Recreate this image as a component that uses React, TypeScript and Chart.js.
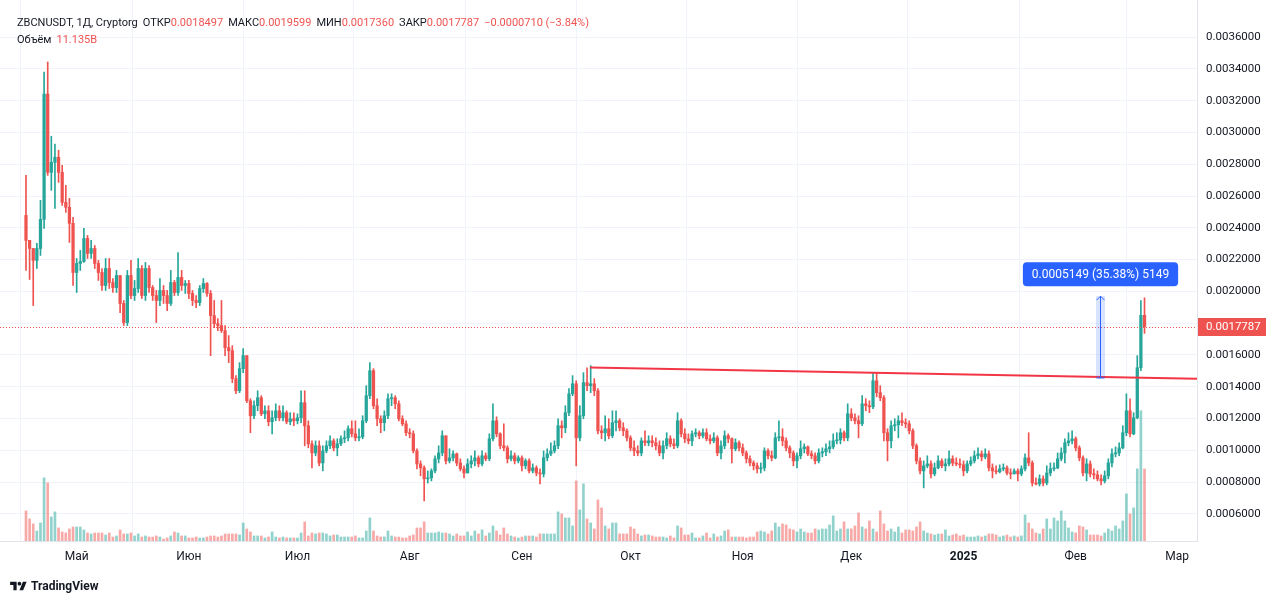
import React, { useEffect, useRef } from "react";
import { Chart, registerables } from "chart.js";

Chart.register(...registerables);

// ---------- data ----------
const symbolTitle = "ZBCNUSDT, 1Д, Cryptorg";
const firstOpen = 0.002478;

const closes = [
  0.002321,0.002270,0.002195,0.002270,0.002453,0.003241,0.002749,0.002812,0.002844,0.002749,
  0.002560,0.002529,0.002428,0.002119,0.002176,0.002188,0.002333,0.002239,0.002270,0.002176,
  0.002119,0.002037,0.002144,0.002056,0.002024,0.002100,0.001924,0.001804,0.002100,0.001974,
  0.002018,0.002144,0.001974,0.002144,0.002024,0.001974,0.001943,0.002006,0.001974,0.001924,
  0.002056,0.001993,0.002088,0.002037,0.002050,0.001987,0.001943,0.001930,0.002018,0.002050,
  0.001987,0.001848,0.001797,0.001785,0.001753,0.001646,0.001627,0.001451,0.001375,0.001514,
  0.001596,0.001312,0.001218,0.001281,0.001331,0.001230,0.001249,0.001180,0.001205,0.001249,
  0.001205,0.001237,0.001180,0.001199,0.001186,0.001205,0.001300,0.001155,0.001041,0.000984,
  0.001029,0.000921,0.000997,0.001029,0.001060,0.001016,0.001041,0.001073,0.001079,0.001136,
  0.001104,0.001079,0.001085,0.001186,0.001344,0.001501,0.001281,0.001199,0.001174,0.001218,
  0.001325,0.001331,0.001293,0.001199,0.001167,0.001111,0.001104,0.000997,0.000915,0.000890,
  0.000821,0.000827,0.000871,0.000947,0.000984,0.001092,0.000934,0.000953,0.000978,0.000921,
  0.000884,0.000858,0.000915,0.000934,0.000953,0.000915,0.000966,0.000947,0.001073,0.001186,
  0.001104,0.001029,0.001016,0.000947,0.000966,0.000934,0.000953,0.000903,0.000934,0.000871,
  0.000890,0.000858,0.000852,0.000953,0.000978,0.000997,0.001029,0.001155,0.001142,0.001237,
  0.001356,0.001419,0.001079,0.001218,0.001426,0.001407,0.001419,0.001375,0.001123,0.001111,
  0.001136,0.001092,0.001174,0.001186,0.001142,0.001123,0.001079,0.001016,0.000997,0.000984,
  0.001060,0.001048,0.001060,0.001048,0.001029,0.000984,0.001029,0.001073,0.001041,0.001029,
  0.001186,0.001104,0.001073,0.001060,0.001104,0.001111,0.001092,0.001111,0.001073,0.001060,
  0.001079,0.000984,0.001029,0.001092,0.001073,0.001010,0.001048,0.001016,0.000984,0.000947,
  0.000921,0.000903,0.000884,0.000890,0.000997,0.000966,0.000953,0.001079,0.001085,0.001060,
  0.001016,0.000984,0.000934,0.000966,0.001010,0.001022,0.000978,0.000966,0.000934,0.000984,
  0.000991,0.001010,0.001022,0.001060,0.001066,0.001111,0.001079,0.001230,0.001205,0.001186,
  0.001167,0.001293,0.001281,0.001274,0.001438,0.001363,0.001331,0.001111,0.001060,0.001155,
  0.001161,0.001186,0.001174,0.001167,0.001123,0.001029,0.000934,0.000871,0.000903,0.000915,
  0.000852,0.000890,0.000934,0.000903,0.000915,0.000947,0.000921,0.000915,0.000909,0.000871,
  0.000915,0.000934,0.000966,0.000978,0.000959,0.000978,0.000890,0.000871,0.000865,0.000884,
  0.000890,0.000858,0.000852,0.000871,0.000852,0.000884,0.000953,0.000921,0.000795,0.000789,
  0.000821,0.000795,0.000858,0.000884,0.000890,0.000947,0.000984,0.001048,0.001060,0.001073,
  0.001016,0.000953,0.000858,0.000915,0.000852,0.000846,0.000821,0.000808,0.000840,0.000921,
  0.000978,0.000984,0.001016,0.001111,0.001249,0.001104,0.001205,0.001520,0.0018497,0.0017787,
];

const highs = [
  0.002730,0.002302,0.002258,0.002302,0.002573,0.003380,0.003443,0.002976,0.002926,0.002888,
  0.002793,0.002667,0.002585,0.002466,0.002207,0.002258,0.002396,0.002352,0.002321,0.002289,
  0.002195,0.002144,0.002207,0.002207,0.002081,0.002132,0.002081,0.001943,0.002132,0.002195,
  0.002069,0.002207,0.002163,0.002182,0.002163,0.002037,0.002006,0.002081,0.002037,0.002006,
  0.002132,0.002069,0.002245,0.002132,0.002069,0.002069,0.002006,0.001974,0.002037,0.002081,
  0.002056,0.002006,0.001943,0.001829,0.001943,0.001785,0.001722,0.001659,0.001470,0.001552,
  0.001640,0.001596,0.001325,0.001312,0.001375,0.001344,0.001281,0.001281,0.001249,0.001293,
  0.001281,0.001281,0.001249,0.001237,0.001237,0.001230,0.001375,0.001375,0.001186,0.001060,
  0.001060,0.001060,0.001029,0.001060,0.001092,0.001073,0.001073,0.001092,0.001123,0.001155,
  0.001186,0.001186,0.001136,0.001218,0.001407,0.001552,0.001514,0.001325,0.001218,0.001249,
  0.001356,0.001356,0.001344,0.001312,0.001218,0.001186,0.001136,0.001123,0.001010,0.000934,
  0.000903,0.000871,0.000884,0.000966,0.001029,0.001123,0.001092,0.001010,0.000997,0.000984,
  0.000947,0.000903,0.000947,0.000966,0.000997,0.000966,0.000997,0.000984,0.001104,0.001293,
  0.001211,0.001111,0.001167,0.001029,0.000997,0.000984,0.000966,0.000966,0.000947,0.000947,
  0.000915,0.000903,0.000884,0.000997,0.001010,0.001048,0.001060,0.001199,0.001186,0.001281,
  0.001388,0.001470,0.001438,0.001281,0.001489,0.001520,0.001533,0.001451,0.001388,0.001155,
  0.001218,0.001199,0.001249,0.001249,0.001199,0.001174,0.001136,0.001092,0.001060,0.001029,
  0.001079,0.001123,0.001092,0.001092,0.001079,0.001060,0.001060,0.001111,0.001092,0.001073,
  0.001237,0.001199,0.001136,0.001104,0.001123,0.001136,0.001123,0.001136,0.001136,0.001098,
  0.001111,0.001092,0.001060,0.001123,0.001104,0.001079,0.001073,0.001060,0.001041,0.000997,
  0.000966,0.000934,0.000921,0.000921,0.001016,0.001010,0.000997,0.001111,0.001186,0.001136,
  0.001079,0.001029,0.000997,0.000984,0.001060,0.001041,0.001029,0.000997,0.000984,0.001010,
  0.001016,0.001041,0.001060,0.001104,0.001111,0.001136,0.001123,0.001293,0.001262,0.001230,
  0.001218,0.001344,0.001325,0.001312,0.001489,0.001489,0.001407,0.001344,0.001136,0.001186,
  0.001199,0.001218,0.001237,0.001199,0.001186,0.001136,0.001041,0.000953,0.000934,0.000966,
  0.000934,0.000921,0.000966,0.000947,0.000947,0.000997,0.000966,0.000953,0.000947,0.000934,
  0.000934,0.000959,0.000997,0.001016,0.000997,0.001010,0.000997,0.000915,0.000903,0.000909,
  0.000915,0.000903,0.000884,0.000884,0.000884,0.000903,0.000978,0.001111,0.000934,0.000827,
  0.000846,0.000840,0.000903,0.000921,0.000921,0.000984,0.001016,0.001073,0.001111,0.001123,
  0.001085,0.001029,0.000966,0.000947,0.000934,0.000884,0.000871,0.000846,0.000871,0.000947,
  0.001010,0.001022,0.001048,0.001155,0.001356,0.001325,0.001237,0.001596,0.001943,0.0019599,
];

const lows = [
  0.002132,0.002075,0.001911,0.002144,0.002226,0.002396,0.002730,0.002636,0.002522,0.002686,
  0.002541,0.002497,0.002308,0.002037,0.001993,0.002132,0.002182,0.002207,0.002207,0.002144,
  0.002069,0.002006,0.002006,0.002018,0.001993,0.001993,0.001867,0.001785,0.001785,0.001955,
  0.001943,0.001993,0.001955,0.001943,0.001993,0.001943,0.001804,0.001911,0.001924,0.001879,
  0.001911,0.001974,0.001974,0.002006,0.001987,0.001955,0.001911,0.001898,0.001911,0.001993,
  0.001968,0.001596,0.001772,0.001753,0.001741,0.001596,0.001552,0.001426,0.001356,0.001363,
  0.001489,0.001300,0.001111,0.001199,0.001249,0.001218,0.001199,0.001155,0.001104,0.001186,
  0.001186,0.001186,0.001167,0.001161,0.001155,0.001167,0.001174,0.001029,0.001016,0.000890,
  0.000966,0.000903,0.000871,0.000984,0.001010,0.000997,0.000966,0.001029,0.001048,0.001060,
  0.001085,0.001060,0.001060,0.001073,0.001174,0.001325,0.001262,0.001155,0.001111,0.001123,
  0.001199,0.001281,0.001262,0.001186,0.001155,0.001092,0.001079,0.000984,0.000884,0.000840,
  0.000682,0.000795,0.000808,0.000858,0.000921,0.000966,0.000915,0.000921,0.000934,0.000903,
  0.000871,0.000827,0.000858,0.000890,0.000903,0.000896,0.000903,0.000934,0.000934,0.001060,
  0.001085,0.001010,0.000997,0.000921,0.000934,0.000915,0.000921,0.000871,0.000884,0.000858,
  0.000858,0.000840,0.000789,0.000833,0.000934,0.000966,0.000984,0.001010,0.001079,0.001111,
  0.001218,0.001344,0.000903,0.001060,0.001199,0.001375,0.001363,0.001344,0.001104,0.001073,
  0.001060,0.001073,0.001079,0.001123,0.001123,0.001092,0.001060,0.000997,0.000966,0.000966,
  0.000966,0.001029,0.001029,0.001022,0.001003,0.000966,0.000947,0.001010,0.001022,0.001010,
  0.001016,0.001085,0.001048,0.001041,0.001029,0.001085,0.001073,0.001079,0.001060,0.001041,
  0.001048,0.000966,0.000947,0.001010,0.001048,0.000921,0.000997,0.000997,0.000966,0.000921,
  0.000903,0.000877,0.000858,0.000858,0.000871,0.000947,0.000934,0.000947,0.001060,0.001029,
  0.000997,0.000953,0.000903,0.000890,0.000947,0.000984,0.000966,0.000947,0.000915,0.000921,
  0.000959,0.000966,0.000984,0.001010,0.001041,0.001041,0.001060,0.001060,0.001186,0.001167,
  0.001079,0.001155,0.001249,0.001237,0.001262,0.001337,0.001312,0.001060,0.000934,0.001016,
  0.001123,0.001079,0.001155,0.001142,0.001104,0.001010,0.000915,0.000852,0.000764,0.000890,
  0.000827,0.000840,0.000884,0.000890,0.000871,0.000903,0.000903,0.000903,0.000890,0.000840,
  0.000858,0.000903,0.000921,0.000947,0.000934,0.000947,0.000871,0.000827,0.000852,0.000858,
  0.000871,0.000846,0.000821,0.000852,0.000808,0.000840,0.000871,0.000903,0.000776,0.000783,
  0.000776,0.000776,0.000783,0.000840,0.000871,0.000884,0.000934,0.000921,0.001029,0.001041,
  0.000997,0.000934,0.000840,0.000808,0.000833,0.000821,0.000808,0.000783,0.000795,0.000821,
  0.000896,0.000959,0.000966,0.001010,0.001092,0.001085,0.001098,0.001199,0.001501,0.0017360,
];

// volume, billions
const volumesB = [
  4.65,3.41,2.64,1.55,2.79,9.77,8.99,3.72,4.50,2.02,
  1.40,1.24,1.86,2.17,2.17,2.17,1.71,1.24,1.09,1.24,
  1.24,1.24,0.93,1.24,0.62,0.78,1.71,1.09,1.09,1.24,
  0.78,1.09,0.62,0.78,0.62,0.62,0.78,0.62,0.31,0.47,
  0.78,1.40,1.24,0.78,0.78,0.47,0.47,0.62,0.47,0.47,
  0.62,0.78,0.78,0.62,0.78,1.09,1.09,1.09,1.09,0.93,
  2.79,1.86,1.40,0.78,0.78,0.78,0.47,0.62,1.40,0.62,
  0.47,0.62,0.47,0.47,0.47,0.47,1.24,2.95,0.78,1.24,
  1.09,1.24,1.24,1.09,0.78,0.93,0.93,0.62,0.62,0.62,
  0.62,0.78,0.47,0.47,1.55,3.57,1.55,0.78,0.62,0.62,
  1.55,0.78,0.62,0.62,0.47,0.47,0.78,0.93,2.02,2.02,
  2.95,1.24,1.24,1.24,1.40,1.24,1.24,1.09,0.78,1.09,
  0.78,0.78,1.40,0.78,1.55,1.09,1.71,0.78,1.24,2.33,
  1.55,0.93,2.02,1.09,0.78,0.62,0.47,0.62,0.78,0.78,
  0.78,0.62,1.09,1.09,1.09,1.09,1.09,4.50,4.19,3.57,
  3.57,2.33,9.30,4.81,8.84,3.41,2.79,1.86,6.36,5.12,
  2.33,1.86,2.79,2.79,1.09,1.09,1.09,2.17,1.86,1.09,
  0.78,0.93,0.93,0.78,0.62,0.62,0.62,0.47,0.78,0.47,
  2.33,2.02,0.93,0.93,1.24,0.47,0.47,0.78,1.24,0.47,
  1.09,0.62,0.78,1.55,1.71,0.62,0.62,0.62,0.62,0.47,
  0.62,0.62,1.40,1.55,1.40,1.09,1.55,2.79,2.17,2.64,
  2.48,1.86,1.71,1.40,1.86,1.40,1.24,1.24,1.86,1.71,
  1.86,1.86,2.48,3.88,1.55,1.86,2.95,1.86,1.86,2.33,
  4.34,2.17,1.86,3.10,1.86,1.40,4.65,2.64,1.55,1.86,
  1.40,2.17,1.24,1.71,1.71,1.55,2.17,2.95,1.55,1.24,
  1.09,0.93,1.09,1.09,1.71,0.78,0.93,1.09,0.78,0.93,
  0.62,0.62,0.62,0.78,0.62,0.78,1.09,1.09,0.93,0.62,
  0.78,0.93,0.62,0.78,0.62,0.78,4.03,2.79,1.86,1.24,
  1.09,1.86,3.41,1.86,3.57,3.10,4.65,3.10,2.02,1.40,
  1.24,2.33,2.17,1.71,0.93,0.93,0.93,0.78,1.24,1.86,
  1.55,2.33,1.86,3.10,7.29,4.19,5.12,11.16,20.15,11.135,
];

// time axis: candle index of month start and its label
const monthTickIdx = [14, 45, 75, 106, 137, 167, 198, 228, 259, 290, 318];
const monthTickLabels = ["Май", "Июн", "Июл", "Авг", "Сен", "Окт", "Ноя", "Дек", "2025", "Фев", "Мар"];

const priceTicks = [
  0.0006, 0.0008, 0.001, 0.0012, 0.0014, 0.0016, 0.0018, 0.002,
  0.0022, 0.0024, 0.0026, 0.0028, 0.003, 0.0032, 0.0034, 0.0036,
];

// drawn trend line (candle index, price)
const trendLine = [
  { x: 155.8, y: 0.001522 },
  { x: 323.5, y: 0.001451 },
];

// price-range measurement tool
const measureIdx = 296.8;
const measureFrom = 0.0014553;
const measureTo = 0.0019702;

// visible ranges
const X_MIN = -7.18;
const X_MAX = 323.5;
const Y_MIN = 0.00043;
const Y_MAX = 0.003833;
const VOL_MAX = 83.67;

// ---------- derived ----------
const UP = "#26a69a";
const DOWN = "#ef5350";
const UP_VOL = "rgba(38,166,154,0.5)";
const DOWN_VOL = "rgba(239,83,80,0.5)";
const TEXT = "#131722";
const GRID = "#f0f3fa";

const opens = [firstOpen, ...closes.slice(0, -1)];
const isUp = closes.map((c, i) => c >= opens[i]);
const n = closes.length;
const lastO = opens[n - 1];
const lastH = highs[n - 1];
const lastL = lows[n - 1];
const lastC = closes[n - 1];
const chg = lastC - closes[n - 2];
const chgPct = (chg / closes[n - 2]) * 100;
const fmt = (v: number) => v.toFixed(7);
const signed = (v: number, s: string) => (v < 0 ? "\u2212" + s.replace("-", "") : "+" + s);

const overlayPlugin = {
  id: "overlayTools",
  afterDatasetsDraw(chart: any) {
    const { ctx, chartArea, scales } = chart;
    const xs = scales.x;
    const ys = scales.y;
    ctx.save();
    // last price dotted line
    const py = Math.round(ys.getPixelForValue(lastC)) + 0.5;
    ctx.strokeStyle = DOWN;
    ctx.lineWidth = 1;
    ctx.setLineDash([1, 2]);
    ctx.beginPath();
    ctx.moveTo(chartArea.left, py);
    ctx.lineTo(chartArea.right, py);
    ctx.stroke();
    ctx.setLineDash([]);

    // measure tool
    const mx = Math.round(xs.getPixelForValue(measureIdx)) + 0.5;
    const y1 = ys.getPixelForValue(measureFrom);
    const y2 = ys.getPixelForValue(measureTo);
    ctx.fillStyle = "rgba(41,98,255,0.18)";
    ctx.fillRect(mx - 4.5, y2, 9, y1 - y2);
    ctx.strokeStyle = "#2962ff";
    ctx.lineWidth = 1;
    ctx.beginPath();
    ctx.moveTo(mx, y1);
    ctx.lineTo(mx, y2);
    ctx.moveTo(mx - 4, y2 + 4);
    ctx.lineTo(mx, y2);
    ctx.lineTo(mx + 4, y2 + 4);
    ctx.moveTo(mx - 4, y1);
    ctx.lineTo(mx + 4, y1);
    ctx.stroke();

    const diff = measureTo - measureFrom;
    const pct = (diff / measureFrom) * 100;
    const pts = Math.round(diff / 1e-7);
    const label = `${diff.toFixed(7)} (${pct.toFixed(2)}%) ${pts}`;
    ctx.font = "12px Roboto";
    const w = ctx.measureText(label).width + 18;
    const bh = 24;
    const bx = mx - w / 2;
    const by = y2 - 10 - bh;
    ctx.fillStyle = "#2962ff";
    ctx.beginPath();
    (ctx as any).roundRect(bx, by, w, bh, 4);
    ctx.fill();
    ctx.fillStyle = "#ffffff";
    ctx.textAlign = "center";
    ctx.textBaseline = "middle";
    ctx.fillText(label, mx, by + bh / 2 + 0.5);
    ctx.restore();
  },
  afterDraw(chart: any) {
    const { ctx, chartArea, scales } = chart;
    const ys = scales.y;
    const py = Math.round(ys.getPixelForValue(lastC));
    ctx.save();
    ctx.fillStyle = DOWN;
    ctx.fillRect(chartArea.right + 1, py - 9, 68, 18);
    ctx.fillStyle = "#ffffff";
    ctx.font = "11.5px Roboto";
    ctx.textBaseline = "middle";
    ctx.textAlign = "left";
    ctx.fillText(fmt(lastC), chartArea.right + 9, py + 0.5);
    ctx.restore();
  },
};

function TvLogo() {
  return (
    <svg width="17" height="13" viewBox="0 0 36 28" style={{ display: "block" }}>
      <path d="M14 22H7V11H0V4h14v18z" fill={TEXT} />
      <circle cx="20" cy="8" r="4" fill={TEXT} />
      <path d="M28 22h-8l7.5-18h8L28 22z" fill={TEXT} />
    </svg>
  );
}

const zeroPad = (s: any) => {
  s.paddingTop = 0;
  s.paddingBottom = 0;
  s.paddingLeft = 0;
  s.paddingRight = 0;
};

export default function App() {
  const canvasRef = useRef<HTMLCanvasElement | null>(null);

  useEffect(() => {
    if (!canvasRef.current) return;
    Chart.defaults.font.family = "Roboto";
    const candleData = closes.map((c, i) => ({ x: i, y: [opens[i], c] }));
    const wickData = closes.map((c, i) => ({
      x: i,
      y: [Math.min(lows[i], opens[i], c), Math.max(highs[i], opens[i], c)],
    }));
    const volData = volumesB.map((v, i) => ({ x: i, y: v }));
    const colorOf = (ctx: any) => (isUp[ctx.dataIndex] ? UP : DOWN);

    const chart = new Chart(canvasRef.current, {
      type: "bar",
      data: {
        datasets: [
          {
            type: "bar",
            data: volData as any,
            yAxisID: "yv",
            backgroundColor: (ctx: any) => (isUp[ctx.dataIndex] ? UP_VOL : DOWN_VOL),
            barThickness: 2,
            grouped: false,
            order: 4,
          } as any,
          {
            type: "bar",
            data: wickData as any,
            yAxisID: "y",
            backgroundColor: colorOf,
            barThickness: 1,
            grouped: false,
            order: 3,
          } as any,
          {
            type: "bar",
            data: candleData as any,
            yAxisID: "y",
            backgroundColor: colorOf,
            barThickness: 2.6,
            minBarLength: 1,
            grouped: false,
            order: 2,
          } as any,
          {
            type: "line",
            data: trendLine as any,
            yAxisID: "y",
            borderColor: "#f23645",
            borderWidth: 2,
            pointRadius: 0,
            order: 1,
          } as any,
        ],
      },
      options: {
        animation: false,
        responsive: false,
        layout: { padding: { left: 0, right: 0, top: 0, bottom: 32 } },
        plugins: { legend: { display: false }, tooltip: { enabled: false } },
        scales: {
          x: {
            type: "linear",
            min: X_MIN,
            max: X_MAX,
            offset: false,
            afterBuildTicks: (s: any) => {
              s.ticks = monthTickIdx.map((v) => ({ value: v }));
            },
            afterFit: (s: any) => {
              s.height = 30;
              zeroPad(s);
            },
            ticks: {
              autoSkip: false,
              maxRotation: 0,
              padding: 9,
              color: TEXT,
              font: (c: any) => ({
                family: "Roboto",
                size: 12,
                weight: c.tick && c.tick.label === "2025" ? "bold" : "normal",
              }),
              callback: (_v: any, i: number) => monthTickLabels[i],
            },
            grid: { color: GRID, drawTicks: false },
            border: { color: "#e0e3eb" },
          } as any,
          y: {
            type: "linear",
            position: "right",
            min: Y_MIN,
            max: Y_MAX,
            afterBuildTicks: (s: any) => {
              s.ticks = priceTicks.map((v) => ({ value: v }));
            },
            afterFit: (s: any) => {
              s.width = 83;
              zeroPad(s);
            },
            ticks: {
              padding: 9,
              color: TEXT,
              font: { family: "Roboto", size: 11.5 },
              callback: (v: any) => Number(v).toFixed(7),
            },
            grid: { color: GRID, drawTicks: false },
            border: { color: "#e0e3eb" },
          } as any,
          yv: {
            type: "linear",
            display: false,
            min: 0,
            max: VOL_MAX,
          } as any,
        },
      },
      plugins: [overlayPlugin as any],
    });
    return () => chart.destroy();
  }, []);

  const red = { color: DOWN };
  const gap = { marginLeft: 5 };
  return (
    <div
      style={{
        position: "absolute",
        left: 0,
        top: 0,
        width: 1280,
        height: 603,
        background: "#ffffff",
        overflow: "hidden",
      }}
    >
      <canvas ref={canvasRef} width={1280} height={603} style={{ position: "absolute", left: 0, top: 0 }} />
      <div
        style={{
          position: "absolute",
          left: 17,
          top: 14,
          font: "11px Roboto",
          color: TEXT,
          lineHeight: "17px",
          whiteSpace: "nowrap",
        }}
      >
        <div>
          <span>{symbolTitle}</span>
          <span style={gap}>ОТКР</span>
          <span style={red}>{fmt(lastO)}</span>
          <span style={gap}>МАКС</span>
          <span style={red}>{fmt(lastH)}</span>
          <span style={gap}>МИН</span>
          <span style={red}>{fmt(lastL)}</span>
          <span style={gap}>ЗАКР</span>
          <span style={red}>{fmt(lastC)}</span>
          <span style={{ ...gap, ...red }}>
            {signed(chg, chg.toFixed(7))} ({signed(chgPct, chgPct.toFixed(2))}%)
          </span>
        </div>
        <div>
          <span>Объём</span>
          <span style={{ ...gap, ...red }}>{volumesB[n - 1].toFixed(3)}B</span>
        </div>
      </div>
      <div
        style={{
          position: "absolute",
          left: 10,
          top: 579,
          display: "flex",
          alignItems: "center",
          gap: 4,
          font: "bold 12px Roboto",
          color: TEXT,
        }}
      >
        <TvLogo />
        <span>TradingView</span>
      </div>
    </div>
  );
}
